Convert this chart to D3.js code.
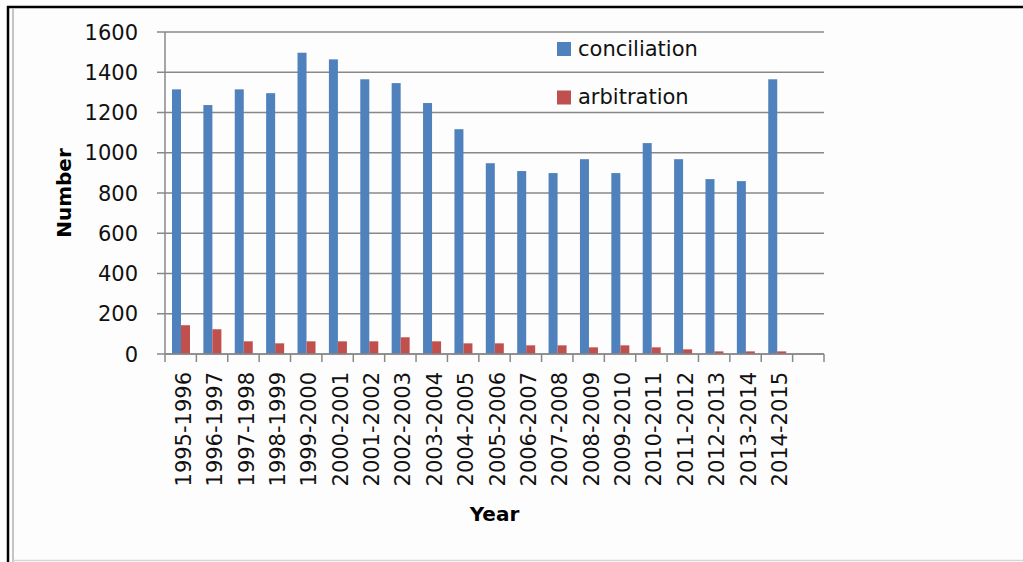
<!DOCTYPE html>
<html>
<head>
<meta charset="utf-8">
<script src="https://cdnjs.cloudflare.com/ajax/libs/d3/7.8.5/d3.min.js"></script>
<style>
  html, body { margin: 0; padding: 0; background: #fdfdfd; }
  svg { display: block; font-family: "DejaVu Sans", Verdana, sans-serif; }
</style>
</head>
<body>
<script>
// data
var years = ["1995-1996", "1996-1997", "1997-1998", "1998-1999", "1999-2000",
             "2000-2001", "2001-2002", "2002-2003", "2003-2004", "2004-2005",
             "2005-2006", "2006-2007", "2007-2008", "2008-2009", "2009-2010",
             "2010-2011", "2011-2012", "2012-2013", "2013-2014", "2014-2015", ""];
var conciliation = [1315, 1237, 1315, 1296, 1497, 1464, 1365, 1346, 1247, 1117,
                    948, 909, 899, 968, 899, 1048, 968, 869, 859, 1365];
var arbitration = [143, 123, 63, 53, 63, 63, 63, 83, 63, 53,
                   53, 43, 43, 33, 43, 33, 23, 13, 13, 13];
var seriesNames = ["conciliation", "arbitration"];
var seriesColors = ["#4f81bd", "#c0504d"];
var yTicks = [0, 200, 400, 600, 800, 1000, 1200, 1400, 1600];

var W = 1023, H = 562;
var plot = {left: 165, right: 824, top: 32, bottom: 354};

var svg = d3.select("body").append("svg")
    .attr("width", W)
    .attr("height", H);

// frame around the picture
svg.append("line").attr("x1", 7).attr("x2", W).attr("y1", 7).attr("y2", 7)
    .attr("stroke", "#000").attr("stroke-width", 2.5);
svg.append("line").attr("x1", 8).attr("x2", 8).attr("y1", 6).attr("y2", H)
    .attr("stroke", "#000").attr("stroke-width", 2.5);
svg.append("line").attr("x1", 13).attr("x2", 13).attr("y1", 9).attr("y2", H)
    .attr("stroke", "#c4c4c4").attr("stroke-width", 2);
svg.append("line").attr("x1", 13).attr("x2", W).attr("y1", 560.5).attr("y2", 560.5)
    .attr("stroke", "#d6d6d6").attr("stroke-width", 1.5);

// scales
var xScale = d3.scaleBand().domain(years).range([plot.left, plot.right]);
var xInner = d3.scaleBand().domain(seriesNames).range([7, 25]);
var yScale = d3.scaleLinear().domain([0, 1600]).range([plot.bottom, plot.top]);

// gridlines + y ticks
var gridColor = "#888888";
svg.append("g").selectAll("line")
    .data(yTicks)
    .enter().append("line")
    .attr("x1", plot.left - 8)
    .attr("x2", plot.right)
    .attr("y1", d => yScale(d))
    .attr("y2", d => yScale(d))
    .attr("stroke", gridColor)
    .attr("stroke-width", 1.5);

svg.append("g").selectAll("text")
    .data(yTicks)
    .enter().append("text")
    .attr("x", 138)
    .attr("y", d => yScale(d))
    .attr("dy", "0.36em")
    .attr("text-anchor", "end")
    .style("font-size", "21px")
    .attr("fill", "#111")
    .text(d => d);

// y axis line
svg.append("line")
    .attr("x1", plot.left).attr("x2", plot.left)
    .attr("y1", plot.top).attr("y2", plot.bottom)
    .attr("stroke", gridColor).attr("stroke-width", 1.5);

// bars
var rows = years.slice(0, conciliation.length).map(function(y, i) {
  return {year: y, values: [conciliation[i], arbitration[i]]};
});

var groups = svg.append("g").selectAll("g")
    .data(rows)
    .enter().append("g")
    .attr("transform", d => "translate(" + xScale(d.year) + ",0)");

groups.selectAll("rect")
    .data(d => d.values.map((v, j) => ({name: seriesNames[j], value: v, color: seriesColors[j]})))
    .enter().append("rect")
    .attr("x", d => xInner(d.name))
    .attr("width", xInner.bandwidth())
    .attr("y", d => yScale(d.value))
    .attr("height", d => plot.bottom - yScale(d.value))
    .attr("fill", d => d.color);

// x axis with ticks at category boundaries
var xAxis = svg.append("g");
xAxis.append("line")
    .attr("x1", plot.left).attr("x2", plot.right)
    .attr("y1", plot.bottom).attr("y2", plot.bottom)
    .attr("stroke", gridColor).attr("stroke-width", 1.5);
var bounds = years.map(d => xScale(d)).concat([plot.right]);
xAxis.selectAll(".tick")
    .data(bounds)
    .enter().append("line")
    .attr("class", "tick")
    .attr("x1", d => d).attr("x2", d => d)
    .attr("y1", plot.bottom).attr("y2", plot.bottom + 8)
    .attr("stroke", gridColor).attr("stroke-width", 1.5);

xAxis.selectAll("text")
    .data(years.filter(d => d !== ""))
    .enter().append("text")
    .attr("transform", d => "translate(" + (xScale(d) + xScale.bandwidth() / 2 + 2.5) + "," + 372 + ") rotate(-90)")
    .attr("dy", "0.36em")
    .attr("text-anchor", "end")
    .style("font-size", "21px")
    .attr("fill", "#111")
    .text(d => d);

// axis titles
svg.append("text")
    .attr("x", (plot.left + plot.right) / 2)
    .attr("y", 521)
    .attr("text-anchor", "middle")
    .style("font-size", "20px")
    .style("font-weight", "bold")
    .text("Year");

svg.append("text")
    .attr("transform", "translate(64," + ((plot.top + plot.bottom) / 2) + ") rotate(-90)")
    .attr("dy", "0.36em")
    .attr("text-anchor", "middle")
    .style("font-size", "20px")
    .style("font-weight", "bold")
    .text("Number");

// legend
var legend = svg.append("g").selectAll("g")
    .data(seriesNames)
    .enter().append("g")
    .attr("transform", (d, i) => "translate(557," + (42 + i * 48.5) + ")");
legend.append("rect")
    .attr("width", 14).attr("height", 14)
    .attr("fill", (d, i) => seriesColors[i]);
legend.append("text")
    .attr("x", 21)
    .attr("y", 13.5)
    .style("font-size", "21px")
    .attr("fill", "#111")
    .text(d => d);
</script>
</body>
</html>
